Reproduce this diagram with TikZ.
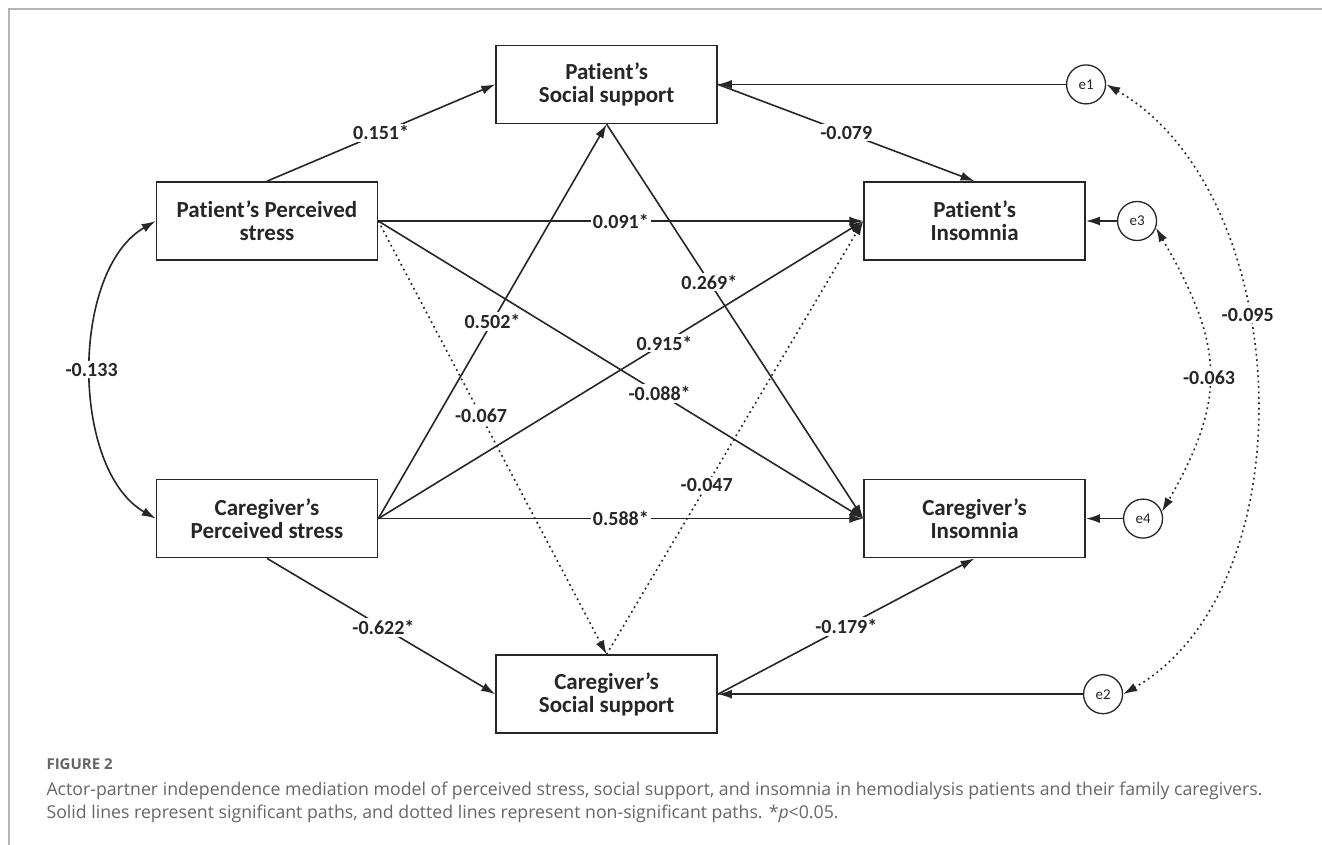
\documentclass[tikz,border=0pt]{standalone}
\usepackage{fontspec}
\setmainfont{Carlito}[Ligatures={NoCommon}]
\newfontfamily\capfont{Open Sans}
\usetikzlibrary{arrows.meta, positioning}

\definecolor{ink}{HTML}{262626}
\definecolor{capgray}{HTML}{666666}
\definecolor{framegray}{HTML}{B4B4B4}

\begin{document}
\begin{tikzpicture}[x=1pt, y=-1pt, node distance=40pt]
    \tikzstyle{block} = [rectangle, draw=ink, line width=1.6pt, minimum width=221pt, minimum height=78pt, align=center, text=ink, font=\bfseries\fontsize{23}{23}\selectfont]
    \tikzstyle{err} = [circle, draw=ink, line width=1.3pt, minimum size=39pt, inner sep=0pt, text=ink, font=\fontsize{15}{15}\selectfont]
    \tikzstyle{line} = [draw=ink, line width=1.6pt, -{Latex[length=14pt, width=9pt]}]
    \tikzstyle{dotline} = [line, dash pattern=on 1.8pt off 3.6pt]
    \tikzstyle{cov} = [{Latex[length=14pt, width=9pt]}-{Latex[length=14pt, width=9pt]}]
    \tikzstyle{lab} = [fill=white, inner sep=2pt, text=ink, font=\bfseries\fontsize{20}{20}\selectfont]

    \useasboundingbox (0,0) rectangle (1322,845);
    \draw [framegray, line width=1.4pt] (9,845) -- (9,9) -- (1322,9);

    % variables
    \node [block] (pps) at (267,221) {Patient's Perceived\\stress};
    \node [block, below=218pt of pps] (cps) {Caregiver's\\Perceived stress};
    \node [block, right=485pt of pps] (pi) {Patient's\\Insomnia};
    \node [block, right=485pt of cps] (ci) {Caregiver's\\Insomnia};
    \node [block, above right=57pt and 117pt of pps] (pss) {Patient's\\Social support};
    \node [block, below right=96pt and 117pt of cps] (css) {Caregiver's\\Social support};

    % residuals
    \node [err, right=348pt of pss] (e1) {e1};
    \node [err, right=31pt of pi] (e3) {e3};
    \node [err, right=37pt of ci] (e4) {e4};
    \node [err, right=365pt of css] (e2) {e2};

    % paths
    \path [line] (pps.north) -- node [lab] {0.151*} (pss.west);
    \path [line] (pps.east) -- node [lab] {0.091*} (pi.west);
    \path [line] (pps.east) -- node [lab, pos=0.58] {-0.088*} (ci.west);
    \path [dotline] (pps.east) -- node [lab, pos=0.45] {-0.067} (css.north);
    \path [line] (cps.east) -- node [lab] {0.502*} (pss.south);
    \path [line] (cps.east) -- node [lab, pos=0.59] {0.915*} (pi.west);
    \path [line] (cps.east) -- node [lab] {0.588*} (ci.west);
    \path [line] (cps.south) -- node [lab, pos=0.51] {-0.622*} (css.west);
    \path [line] (pss.east) -- node [lab] {-0.079} (pi.north);
    \path [line] (pss.south) -- node [lab, pos=0.4] {0.269*} (ci.west);
    \path [dotline] (css.north) -- node [lab, pos=0.39] {-0.047} (pi.west);
    \path [line] (css.east) -- node [lab] {-0.179*} (ci.south);

    \path [line] (e1) -- (pss);
    \path [line] (e3) -- (pi);
    \path [line] (e4) -- (ci);
    \path [line] (e2) -- (css);

    % covariances
    \path [line, cov] (pps.west) to[out=210, in=150, looseness=0.85] node [lab] {-0.133} (cps.west);
    \path [dotline, cov] (e1.east) to[out=-30, in=30, looseness=0.91] node [lab, pos=0.4] {-0.095} (e2.east);
    \path [dotline, cov] (e3.-20) to[out=-60, in=60, looseness=1.2] node [lab, pos=0.53] {-0.063} (e4.20);

    % caption
    \node [anchor=base west, text=capgray, font=\capfont\bfseries\fontsize{15}{15}\selectfont] (fig) at (43,769) {FIGURE 2};
    \node [anchor=base west, text=capgray, font=\capfont\fontsize{17.7}{17.7}\selectfont] (cap1) at (43,795) {Actor-partner independence mediation model of perceived stress, social support, and insomnia in hemodialysis patients and their family caregivers.};
    \node [anchor=base west, text=capgray, font=\capfont\fontsize{17.7}{17.7}\selectfont] (cap2) at (43,818) {Solid lines represent significant paths, and dotted lines represent non-significant paths. *\emph{p}<0.05.};
\end{tikzpicture}
\end{document}
